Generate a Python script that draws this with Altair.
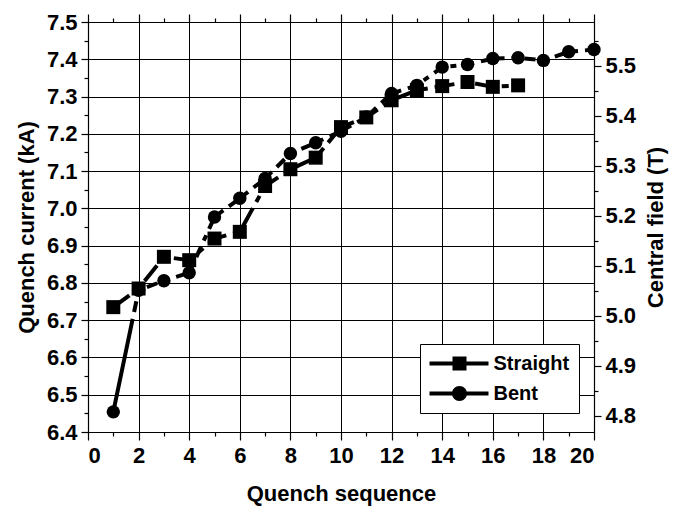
import altair as alt
import pandas as pd

# ---- data ----
seq_straight = list(range(1, 18))
current_straight = [6.735, 6.785, 6.870, 6.861, 6.919, 6.937, 7.060, 7.105, 7.136,
                    7.218, 7.244, 7.290, 7.317, 7.328, 7.339, 7.326, 7.330]
seq_bent = list(range(1, 21))
current_bent = [6.454, 6.780, 6.806, 6.827, 6.977, 7.027, 7.080, 7.147, 7.176, 7.207,
                7.245, 7.308, 7.330, 7.379, 7.386, 7.402, 7.404, 7.397, 7.420, 7.426]
series_names = ["Straight", "Bent"]

x_ticks = list(range(0, 21))
y_ticks = [round(6.40 + 0.05 * i, 2) for i in range(23)]          # 6.40 .. 7.50
field_ticks = [round(4.80 + 0.05 * i, 2) for i in range(16)]      # 4.80 .. 5.55
field_per_ka = 0.745
x_domain = [0, 20]
y_domain = [6.4, 7.5]
field_domain = [6.4 * field_per_ka, 7.5 * field_per_ka]

df_s = pd.DataFrame({"seq": seq_straight, "current": current_straight, "series": "Straight"})
df_b = pd.DataFrame({"seq": seq_bent, "current": current_bent, "series": "Bent"})
df_all = pd.concat([df_s, df_b], ignore_index=True)

FONT = "Liberation Sans"

major_x = "datum.value % 2 == 0"
major_y = "abs(datum.value * 10 - round(datum.value * 10)) < 0.001"

x_bottom = alt.X(
    "seq:Q",
    scale=alt.Scale(domain=x_domain, nice=False, zero=False),
    axis=alt.Axis(
        orient="bottom", values=x_ticks, title="Quench sequence",
        labelExpr=f"{major_x} ? format(datum.value, 'd') : ''",
        tickSize={"condition": {"test": major_x, "value": 8}, "value": 4},
        grid=True,
        gridOpacity={"condition": {"test": major_x, "value": 1}, "value": 0},
        labelPadding=5, titlePadding=17,
    ),
)
y_left = alt.Y(
    "current:Q",
    scale=alt.Scale(domain=y_domain, nice=False, zero=False),
    axis=alt.Axis(
        orient="left", values=y_ticks, title="Quench current (kA)",
        labelExpr=f"{major_y} ? format(datum.value, '.1f') : ''",
        tickSize={"condition": {"test": major_y, "value": 7}, "value": 4},
        grid=True,
        gridOpacity={"condition": {"test": major_y, "value": 1}, "value": 0},
        labelPadding=4, titlePadding=8,
    ),
)

straight_dash = [20, 7, 7, 7]
bent_dash = [95, 7] + [11, 7, 6, 7] * 30

line_s = alt.Chart(df_s).mark_line(color="black", strokeWidth=4, strokeDash=straight_dash).encode(
    x=x_bottom, y=y_left)
pts_s = alt.Chart(df_s).mark_point(shape="square", filled=True, color="black", size=196, opacity=1).encode(
    x=x_bottom, y=y_left)
line_b = alt.Chart(df_b).mark_line(color="black", strokeWidth=4, strokeDash=bent_dash).encode(
    x=x_bottom, y=y_left)
pts_b = alt.Chart(df_b).mark_point(shape="circle", filled=True, color="black", size=180, opacity=1).encode(
    x=x_bottom, y=y_left)

# legend symbols: a line with the marker on it
sym_square = ("M-1,-0.2 H4.9 V0.2 H-1 Z "
              "M1.3,-0.7 H2.7 V0.7 H1.3 Z")
sym_circle = ("M-1,-0.2 H4.9 V0.2 H-1 Z "
              "M2.75,0 A0.75,0.75 0 1,1 1.25,0 A0.75,0.75 0 1,1 2.75,0 Z")

legend_layer = alt.Chart(df_all).transform_filter("false").mark_point(
    filled=True, color="black", opacity=1).encode(
    x=x_bottom, y=y_left,
    shape=alt.Shape(
        "series:N",
        scale=alt.Scale(domain=series_names, range=[sym_square, sym_circle]),
        legend=alt.Legend(
            title=None, orient="none", legendX=332, legendY=322,
            symbolSize=400, symbolStrokeWidth=0, symbolFillColor="black",
            symbolOpacity=1,
            labelFont=FONT, labelFontSize=20, labelFontWeight="bold", labelColor="black",
            labelOffset=44, rowPadding=10, padding=9.5,
            strokeColor="black", fillColor="white",
        ),
    ),
)

left = alt.layer(line_s, line_b, pts_s, pts_b, legend_layer)

right = alt.Chart(df_b).transform_calculate(
    field=f"datum.current * {field_per_ka}"
).mark_point(opacity=0).encode(
    x=alt.X("seq:Q", scale=alt.Scale(domain=x_domain, nice=False, zero=False),
            axis=alt.Axis(orient="top", values=x_ticks, labels=False, title=None, grid=False,
                          tickSize={"condition": {"test": major_x, "value": 8}, "value": 4})),
    y=alt.Y("field:Q", scale=alt.Scale(domain=field_domain, nice=False, zero=False),
            axis=alt.Axis(orient="right", values=field_ticks, title="Central field (T)",
                          labelExpr=f"{major_y} ? format(datum.value, '.1f') : ''",
                          tickSize={"condition": {"test": major_y, "value": 7}, "value": 4},
                          grid=False, labelPadding=4,
                          titleAngle=-90, titleBaseline="middle", titleAlign="center",
                          titleX=61, titleY=205)),
)

chart = alt.layer(left, right).resolve_scale(
    x="independent", y="independent", shape="independent"
).properties(
    width=506, height=410,
    autosize=alt.AutoSizeParams(type="none"),
    padding={"left": 80, "top": 14, "right": 75, "bottom": 76},
).configure_view(stroke=None).configure_axis(
    domainColor="black", domainWidth=1.2, tickColor="black", tickWidth=1.2,
    gridColor="black", gridWidth=1,
    labelFont=FONT, labelFontSize=22, labelFontWeight="bold", labelColor="black",
    titleFont=FONT, titleFontSize=22, titleFontWeight="bold", titleColor="black",
)

chart.save("out.html", embed_options={"renderer": "svg", "actions": False})
